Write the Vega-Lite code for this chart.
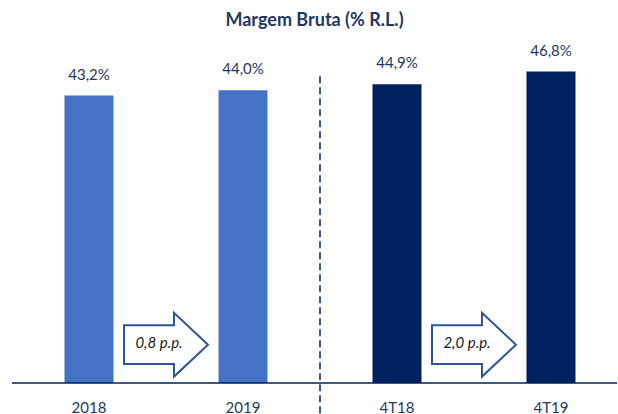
{
  "$schema": "https://vega.github.io/schema/vega-lite/v6.json",
  "width": 605,
  "height": 338,
  "padding": {"left": 12, "top": 45, "right": 1, "bottom": 31},
  "autosize": {"type": "none"},
  "title": {
    "text": "Margem Bruta (% R.L.)",
    "font": "Lato",
    "fontSize": 18,
    "fontWeight": "bold",
    "color": "#1F3864",
    "anchor": "middle",
    "offset": 14
  },
  "datasets": {
    "bars": [
      {"periodo": "2018", "margem": 43.2, "rotulo": "43,2%", "grupo": "Anual"},
      {"periodo": "2019", "margem": 44.0, "rotulo": "44,0%", "grupo": "Anual"},
      {"periodo": "4T18", "margem": 44.9, "rotulo": "44,9%", "grupo": "Trimestral"},
      {"periodo": "4T19", "margem": 46.8, "rotulo": "46,8%", "grupo": "Trimestral"}
    ],
    "setas": [
      {"de": "2018", "variacao": "0,8 p.p."},
      {"de": "4T18", "variacao": "2,0 p.p."}
    ]
  },
  "encoding": {
    "x": {
      "field": "periodo",
      "type": "nominal",
      "sort": ["2018", "2019", "4T18", "4T19"],
      "scale": {"domain": ["2018", "2019", "4T18", "4T19"], "range": [0, 616], "paddingInner": 0, "paddingOuter": 0},
      "axis": {
        "title": null,
        "domain": false,
        "ticks": false,
        "labelAngle": 0,
        "labelFont": "Lato",
        "labelFontSize": 15,
        "labelColor": "#1F3864",
        "labelPadding": 17
      }
    }
  },
  "layer": [
    {
      "data": {"name": "bars"},
      "mark": {"type": "bar", "width": 49},
      "encoding": {
        "y": {"field": "margem", "type": "quantitative", "scale": {"domain": [0, 50.8], "nice": false}, "axis": null},
        "color": {
          "field": "grupo",
          "type": "nominal",
          "scale": {"domain": ["Anual", "Trimestral"], "range": ["#4472C4", "#002060"]},
          "legend": null
        }
      }
    },
    {
      "data": {"name": "bars"},
      "mark": {"type": "text", "dy": -13, "baseline": "bottom", "font": "Lato", "fontSize": 15, "color": "#1F3864"},
      "encoding": {
        "y": {"field": "margem", "type": "quantitative"},
        "text": {"field": "rotulo"}
      }
    },
    {
      "data": {"values": [{}]},
      "mark": {"type": "rule", "color": "#002060", "strokeWidth": 1.5},
      "encoding": {
        "x": null,
        "y": {"datum": 0, "type": "quantitative"}
      }
    },
    {
      "data": {"values": [{}]},
      "mark": {"type": "rule", "color": "#002060", "strokeWidth": 1.5, "strokeDash": [7, 4]},
      "encoding": {
        "x": {"datum": "2019", "type": "nominal", "bandPosition": 1},
        "y": {"datum": 46.1, "type": "quantitative"},
        "y2": {"datum": -4.8}
      }
    },
    {
      "data": {"name": "setas"},
      "mark": {
        "type": "point",
        "shape": "M-1,-0.46 L0.19,-0.46 L0.19,-0.76 L1,0 L0.19,0.76 L0.19,0.46 L-1,0.46 Z",
        "size": 7056,
        "filled": true,
        "fill": "#FFFFFF",
        "stroke": "#2F5597",
        "strokeWidth": 2,
        "opacity": 1,
        "fillOpacity": 1
      },
      "encoding": {
        "x": {"field": "de", "type": "nominal", "bandPosition": 1},
        "y": {"datum": 5.76, "type": "quantitative"}
      }
    },
    {
      "data": {"name": "setas"},
      "mark": {"type": "text", "dx": -7, "font": "Lato", "fontSize": 15, "fontStyle": "italic", "color": "#1A1A1A", "baseline": "middle"},
      "encoding": {
        "x": {"field": "de", "type": "nominal", "bandPosition": 1},
        "y": {"datum": 6.0, "type": "quantitative"},
        "text": {"field": "variacao"}
      }
    }
  ],
  "config": {
    "view": {"stroke": null},
    "background": "#FFFFFF"
  }
}
